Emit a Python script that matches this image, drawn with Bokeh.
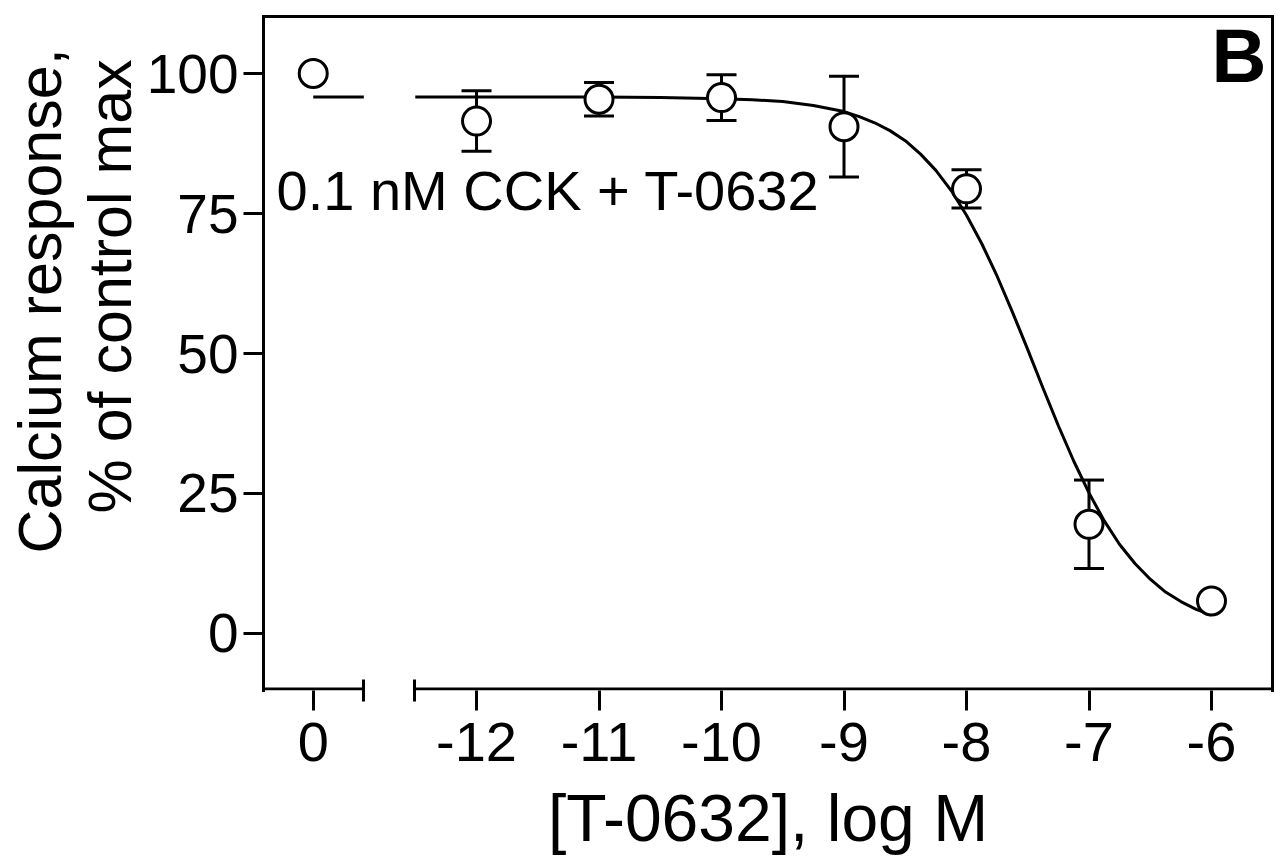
import math
from bokeh.plotting import figure
from bokeh.models import (ColumnDataSource, Whisker, TeeHead, FixedTicker, LinearAxis,
                          CustomJSTickFormatter, Label, Range1d, Title)
from bokeh.embed import file_html
from bokeh.resources import INLINE

# ---------------- data ----------------
dose_log = [0, -12, -11, -10, -9, -8, -7, -6]          # 0 = control (no T-0632)
response = [100.0, 91.5, 95.4, 95.7, 90.5, 79.4, 19.5, 5.8]
sem = [0.0, 5.4, 3.0, 4.1, 9.0, 3.4, 7.9, 0.0]

fit_x = [-12.5, -12.0, -11.5, -11.0, -10.5, -10.0, -9.75, -9.5, -9.25, -9.0,
         -8.875, -8.75, -8.625, -8.5, -8.375, -8.25, -8.125, -8.0, -7.875, -7.75,
         -7.625, -7.5, -7.375, -7.25, -7.125, -7.0, -6.875, -6.75, -6.625, -6.5,
         -6.375, -6.25, -6.125, -6.0]
fit_y = [95.8, 95.8, 95.8, 95.8, 95.7, 95.5, 95.3, 95.0, 94.3, 93.2,
         92.3, 91.2, 89.8, 88.0, 85.6, 82.7, 79.1, 74.7, 69.6, 63.8,
         57.4, 50.7, 43.8, 37.1, 30.8, 25.1, 20.1, 15.9, 12.5, 9.7,
         7.4, 5.7, 4.3, 3.3]
fit_top = 95.8  # plateau of the fit, also drawn in the control segment

x_ticks = [0, -12, -11, -10, -9, -8, -7, -6]
y_ticks = [0, 25, 50, 75, 100]

# ---------------- broken-axis layout ----------------
ZERO_POS = -13.333      # where the control ("0") is drawn
BREAK_LEFT = -12.92
BREAK_RIGHT = -12.51
X_START, X_END = -13.739, -5.502
Y_START, Y_END = -10.18, 110.18
PX_PER_Y = 5.6

def pos(d):
    return ZERO_POS if d == 0 else d

FONT = "Liberation Sans"

p = figure(width=1286, height=859, output_backend="svg", toolbar_location=None,
           x_range=Range1d(X_START, X_END), y_range=Range1d(Y_START, Y_END),
           min_border_left=263, min_border_right=14, min_border_top=16, min_border_bottom=169)
p.xgrid.visible = False
p.ygrid.visible = False
p.outline_line_color = None
p.background_fill_color = "white"
p.border_fill_color = "white"

# y axis
ya = p.yaxis[0]
ya.ticker = FixedTicker(ticks=y_ticks, minor_ticks=[])
ya.axis_line_width = 3
ya.axis_line_cap = "square"
ya.major_tick_line_width = 3
ya.major_tick_out = 20
ya.major_tick_in = 0
ya.major_label_standoff = 5
ya.major_label_text_font = FONT
ya.major_label_text_font_size = "55px"
ya.major_label_text_color = "black"

# x axis (line drawn separately because of the break)
xa = p.xaxis[0]
xa.ticker = FixedTicker(ticks=[pos(t) for t in x_ticks], minor_ticks=[BREAK_LEFT, BREAK_RIGHT])
xa.formatter = CustomJSTickFormatter(code="return tick < -12.5 ? '0' : tick.toFixed(0);")
xa.axis_line_color = None
xa.major_tick_line_width = 3
xa.major_tick_out = 20
xa.major_tick_in = 0
xa.minor_tick_line_width = 3
xa.minor_tick_line_color = "black"
xa.minor_tick_in = 11
xa.minor_tick_out = 11
xa.major_label_standoff = 12
xa.major_label_text_font = FONT
xa.major_label_text_font_size = "56px"
xa.major_label_text_color = "black"
xa.axis_label = "[T-0632], log M"
xa.axis_label_text_font = FONT
xa.axis_label_text_font_size = "66px"
xa.axis_label_text_font_style = "normal"
xa.axis_label_text_color = "black"
xa.axis_label_standoff = 17

# top and right frame lines
for side in ("above", "right"):
    ax = LinearAxis(ticker=FixedTicker(ticks=[], minor_ticks=[]), axis_line_width=3,
                    axis_line_cap="square",
                    major_tick_out=0, major_tick_in=0, minor_tick_out=0, minor_tick_in=0,
                    major_label_text_font_size="0px", major_label_standoff=0)
    p.add_layout(ax, side)

# y-axis title (two lines)
for txt, off in (("% of control max", 177), ("Calcium response,", 137)):
    p.add_layout(Title(text=txt, align="left", offset=off, standoff=0,
                       text_font=FONT, text_font_size="61px", text_font_style="normal",
                       text_color="black"), "left")

# bottom frame line with break
spine_y = Y_START + 1.5 / PX_PER_Y
p.segment(x0=[X_START, BREAK_RIGHT], x1=[BREAK_LEFT, X_END], y0=[spine_y, spine_y],
          y1=[spine_y, spine_y], line_color="black", line_width=3)

# fitted curve
p.line(x=[ZERO_POS, BREAK_LEFT], y=[fit_top, fit_top], line_color="black", line_width=3)
p.line(x=fit_x, y=fit_y, line_color="black", line_width=3)

# error bars
ex = [pos(d) for d, e in zip(dose_log, sem) if e > 0]
eu = [r + e for r, e in zip(response, sem) if e > 0]
el = [r - e for r, e in zip(response, sem) if e > 0]
esrc = ColumnDataSource(dict(x=ex, upper=eu, lower=el))
w = Whisker(base="x", upper="upper", lower="lower", source=esrc, dimension="height",
            line_width=3, line_color="black",
            upper_head=TeeHead(size=30, line_width=3, line_color="black"),
            lower_head=TeeHead(size=30, line_width=3, line_color="black"))
p.add_layout(w)

# points
src = ColumnDataSource(dict(x=[pos(d) for d in dose_log], y=response))
p.scatter(x="x", y="y", source=src, marker="circle", size=28, line_width=3,
          line_color="black", fill_color="white")

# texts inside the frame
p.add_layout(Label(x=X_START, y=79.1, x_offset=13, text="0.1 nM CCK + T-0632",
                   text_font=FONT, text_font_size="56px", text_color="black",
                   text_align="left", text_baseline="alphabetic"))
p.add_layout(Label(x=X_END, y=Y_END, x_offset=-6, y_offset=-39, text="B",
                   text_font=FONT, text_font_size="76px", text_font_style="bold",
                   text_color="black", text_align="right", text_baseline="alphabetic"))

open("out.html", "w").write(file_html(p, INLINE))
